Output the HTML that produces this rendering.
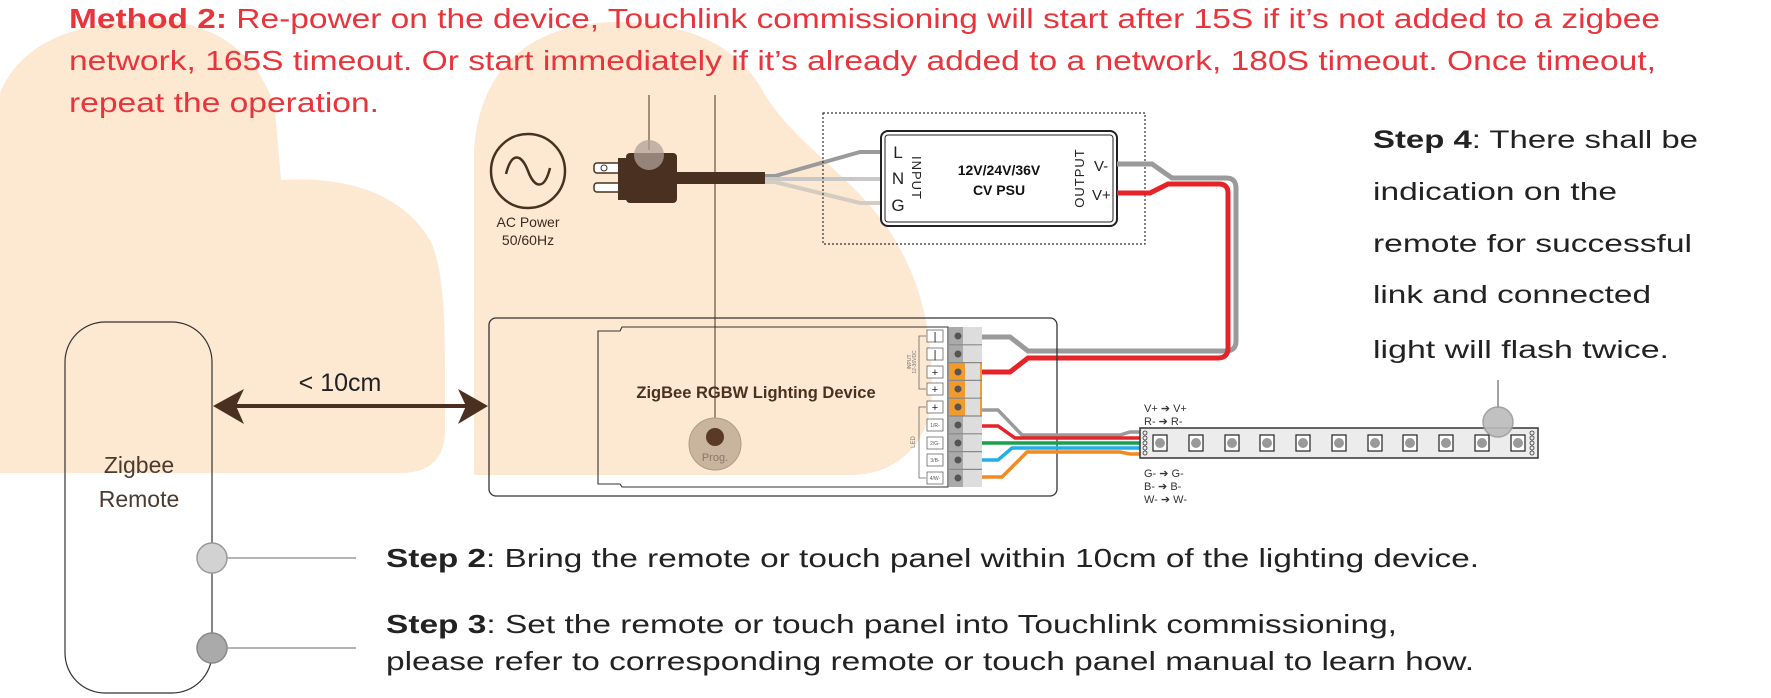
<!DOCTYPE html>
<html><head><meta charset="utf-8"><style>
html,body{margin:0;padding:0;background:#fff;}
svg{display:block;}
text{font-family:"Liberation Sans",Arial,sans-serif;}
</style></head><body>
<svg width="1771" height="698" viewBox="0 0 1771 698" xmlns="http://www.w3.org/2000/svg">
<path d="M0,93 C20,45 70,22 150,20 C220,20 262,60 275,110 L281,180 C340,176 400,190 430,240 C445,270 445,330 445,380 L445,430 Q445,473 400,473 L0,473 Z" fill="#fde8d2"/>
<path d="M474,475 L474,150 C480,60 540,22 618,22 C700,22 745,55 765,95 C800,150 860,180 895,240 C925,290 932,340 932,390 C932,440 900,475 850,475 Z" fill="#fde8d2"/>

<g fill="#e8353c" font-size="28">
<text x="69" y="28" textLength="1591" lengthAdjust="spacingAndGlyphs"><tspan font-weight="bold">Method 2:</tspan> Re-power on the device, Touchlink commissioning will start after 15S if it’s not added to a zigbee</text>
<text x="69" y="70" textLength="1587" lengthAdjust="spacingAndGlyphs">network, 165S timeout. Or start immediately if it’s already added to a network, 180S timeout. Once timeout,</text>
<text x="69" y="112" textLength="310" lengthAdjust="spacingAndGlyphs">repeat the operation.</text>
</g>

<circle cx="528" cy="171" r="37" fill="none" stroke="#4a3020" stroke-width="2.5"/>
<path d="M506,174 C512,150 522,155 528,171 C534,187 544,192 550,168" fill="none" stroke="#4a3020" stroke-width="2.5"/>
<text x="528" y="227" font-size="14" fill="#3a2a20" text-anchor="middle">AC Power</text>
<text x="528" y="245" font-size="14" fill="#3a2a20" text-anchor="middle">50/60Hz</text>

<rect x="594" y="163" width="34" height="10" rx="3" fill="#fff" stroke="#4a3020" stroke-width="1.5"/>
<rect x="594" y="183" width="34" height="9" rx="3" fill="#fff" stroke="#4a3020" stroke-width="1.5"/>
<circle cx="604" cy="168" r="3" fill="none" stroke="#4a3020"/>
<rect x="618" y="158" width="14" height="42" fill="#4a3020"/>
<rect x="626" y="153" width="51" height="50" rx="4" fill="#4a3020"/>
<rect x="676" y="172" width="89" height="12" fill="#4a3020"/>
<path d="M765,176 L775,176 L860,152 L880,152" fill="none" stroke="#9a9a9a" stroke-width="4"/>
<path d="M765,179 L880,179" fill="none" stroke="#c8c8c8" stroke-width="4"/>
<path d="M765,182 L775,182 L860,203 L880,203" fill="none" stroke="#d4ccc0" stroke-width="4"/>

<line x1="649" y1="95" x2="649" y2="150" stroke="#4a3020" stroke-width="1"/>
<ellipse cx="649" cy="155" rx="15" ry="15" fill="#b0a098" opacity="0.75"/>
<line x1="715" y1="95" x2="715" y2="430" stroke="#4a3020" stroke-width="1"/>

<rect x="823" y="113" width="322" height="131" fill="none" stroke="#333" stroke-width="1.2" stroke-dasharray="2,2"/>
<rect x="881" y="131" width="236" height="95" rx="7" fill="#fff" stroke="#222" stroke-width="2"/>
<rect x="885" y="135" width="228" height="87" rx="3" fill="none" stroke="#222" stroke-width="1"/>
<g font-size="17" fill="#222">
<text x="898" y="158" text-anchor="middle">L</text>
<text x="898" y="184" text-anchor="middle">N</text>
<text x="898" y="211" text-anchor="middle">G</text>
<text x="1094" y="171" font-size="15">V-</text>
<text x="1092" y="200" font-size="15">V+</text>
</g>
<text transform="translate(912,178) rotate(90)" font-size="13" fill="#222" text-anchor="middle" letter-spacing="1">INPUT</text>
<text transform="translate(1084,178) rotate(-90)" font-size="13" fill="#222" text-anchor="middle" letter-spacing="1">OUTPUT</text>
<text x="999" y="175" font-size="14" font-weight="bold" fill="#111" text-anchor="middle">12V/24V/36V</text>
<text x="999" y="195" font-size="14" font-weight="bold" fill="#111" text-anchor="middle">CV PSU</text>

<path d="M1117,164 H1152 L1172,178 H1226 Q1236,178 1236,188 V341 Q1236,351 1226,351 H1028 L1010,337 H982" fill="none" stroke="#9a9a9a" stroke-width="5"/>
<path d="M1117,193 H1150 L1168,184 H1219 Q1228,184 1228,193 V348 Q1228,358 1218,358 H1028 L1010,372 H982" fill="none" stroke="#e42428" stroke-width="5"/>

<rect x="489" y="318" width="568" height="178" rx="7" fill="none" stroke="#333" stroke-width="1.3"/>
<path d="M598,331 H620 L622,327 H948 V487 H622 L620,484 H598 Z" fill="none" stroke="#333" stroke-width="1.1"/>
<text x="756" y="398" font-size="16.5" font-weight="bold" fill="#4a3020" text-anchor="middle">ZigBee RGBW Lighting Device</text>
<circle cx="715" cy="444" r="26" fill="#c9b49e" stroke="#b29a84"/>
<circle cx="715" cy="437" r="9" fill="#5a3a26"/>
<text x="715" y="461" font-size="11" fill="#8a7868" text-anchor="middle">Prog.</text>

<g>
<rect x="949" y="327" width="33" height="160" fill="#ddd"/>
<rect x="949" y="327" width="14" height="160" fill="#aaa"/>
<rect x="949" y="362.6" width="14" height="53.4" fill="#f39a2c"/>
<rect x="963" y="362.6" width="2" height="53.4" fill="#f39a2c"/>
<rect x="980" y="362.6" width="2" height="53.4" fill="#f39a2c"/>
<g stroke="#888" stroke-width="1.2">
<line x1="949" y1="344.8" x2="982" y2="344.8"/><line x1="949" y1="362.6" x2="982" y2="362.6"/>
<line x1="949" y1="380.4" x2="982" y2="380.4"/><line x1="949" y1="398.2" x2="982" y2="398.2"/>
<line x1="949" y1="416" x2="982" y2="416"/><line x1="949" y1="433.8" x2="982" y2="433.8"/>
<line x1="949" y1="451.6" x2="982" y2="451.6"/><line x1="949" y1="469.4" x2="982" y2="469.4"/>
</g>
<g fill="#555">
<circle cx="958" cy="336" r="3.5"/><circle cx="958" cy="354" r="3.5"/><circle cx="958" cy="372" r="3.5"/>
<circle cx="958" cy="389" r="3.5"/><circle cx="958" cy="407" r="3.5"/><circle cx="958" cy="425" r="3.5"/>
<circle cx="958" cy="443" r="3.5"/><circle cx="958" cy="460" r="3.5"/><circle cx="958" cy="478" r="3.5"/>
</g>
<g fill="#fff" stroke="#666" stroke-width="0.8">
<rect x="927" y="330" width="16" height="12"/><rect x="927" y="348" width="16" height="12"/>
<rect x="927" y="366" width="16" height="12"/><rect x="927" y="383" width="16" height="12"/>
<rect x="927" y="401" width="16" height="12"/><rect x="927" y="419" width="16" height="12"/>
<rect x="927" y="437" width="16" height="12"/><rect x="927" y="454" width="16" height="12"/>
<rect x="927" y="472" width="16" height="12"/>
</g>
<g font-size="11" fill="#222" text-anchor="middle">
<text x="935" y="340">|</text><text x="935" y="358">|</text><text x="935" y="376">+</text>
<text x="935" y="393">+</text><text x="935" y="411">+</text>
</g>
<g font-size="5" fill="#555" text-anchor="middle">
<text x="935" y="427">1/R-</text><text x="935" y="445">2/G-</text><text x="935" y="462">3/B-</text><text x="935" y="480">4/W-</text>
</g>
<path d="M926,336 H919 V389 H926 M926,407 H919 V478 H926" fill="none" stroke="#666" stroke-width="0.8"/>
<text transform="translate(911,362) rotate(-90)" font-size="5" fill="#777" text-anchor="middle">INPUT</text>
<text transform="translate(916,362) rotate(-90)" font-size="5" fill="#777" text-anchor="middle">12-36VDC</text>
<text transform="translate(915,442) rotate(-90)" font-size="6" fill="#777" text-anchor="middle">LED</text>
</g>

<path d="M982,410 H998 L1022,435 H1120 L1130,432 H1141" fill="none" stroke="#9a9a9a" stroke-width="3.5"/>
<path d="M982,426 H998 L1015,438 H1141" fill="none" stroke="#e42428" stroke-width="3.5"/>
<path d="M982,443 H1141" fill="none" stroke="#1aa04a" stroke-width="3.5"/>
<path d="M982,460 H998 L1012,448 H1141" fill="none" stroke="#23aee8" stroke-width="3.5"/>
<path d="M982,477 H1002 L1027,452 H1120 L1130,454 H1141" fill="none" stroke="#f08a24" stroke-width="3.5"/>

<rect x="1140" y="428" width="398" height="30" fill="#ececec" stroke="#333" stroke-width="1.5"/>
<g fill="none" stroke="#333" stroke-width="0.8">
<circle cx="1145" cy="433" r="2"/><circle cx="1145" cy="438" r="2"/><circle cx="1145" cy="443" r="2"/><circle cx="1145" cy="448" r="2"/><circle cx="1145" cy="453" r="2"/>
<circle cx="1532" cy="433" r="2"/><circle cx="1532" cy="438" r="2"/><circle cx="1532" cy="443" r="2"/><circle cx="1532" cy="448" r="2"/><circle cx="1532" cy="453" r="2"/>
</g>
<g fill="#fff" stroke="#222" stroke-width="1.2">
<rect x="1153" y="435" width="14" height="16"/><rect x="1189" y="435" width="14" height="16"/>
<rect x="1225" y="435" width="14" height="16"/><rect x="1260" y="435" width="14" height="16"/>
<rect x="1296" y="435" width="14" height="16"/><rect x="1332" y="435" width="14" height="16"/>
<rect x="1368" y="435" width="14" height="16"/><rect x="1403" y="435" width="14" height="16"/>
<rect x="1439" y="435" width="14" height="16"/><rect x="1475" y="435" width="14" height="16"/>
<rect x="1511" y="435" width="14" height="16"/>
</g>
<g fill="#999">
<circle cx="1160" cy="443" r="5"/><circle cx="1196" cy="443" r="5"/><circle cx="1232" cy="443" r="5"/>
<circle cx="1267" cy="443" r="5"/><circle cx="1303" cy="443" r="5"/><circle cx="1339" cy="443" r="5"/>
<circle cx="1375" cy="443" r="5"/><circle cx="1410" cy="443" r="5"/><circle cx="1446" cy="443" r="5"/>
<circle cx="1482" cy="443" r="5"/><circle cx="1518" cy="443" r="5"/>
</g>
<line x1="1498" y1="380" x2="1498" y2="408" stroke="#444" stroke-width="1"/>
<circle cx="1498" cy="422" r="15" fill="#bbb" stroke="#999" stroke-width="1.5" opacity="0.9"/>
<g font-size="11" fill="#333">
<text x="1144" y="412">V+ ➔ V+</text>
<text x="1144" y="425">R-  ➔  R-</text>
<text x="1144" y="477">G-  ➔  G-</text>
<text x="1144" y="490">B-  ➔  B-</text>
<text x="1144" y="503">W-  ➔  W-</text>
</g>

<g font-size="25" fill="#222">
<text x="1373" y="148" textLength="325" lengthAdjust="spacingAndGlyphs"><tspan font-weight="bold">Step 4</tspan>: There shall be</text>
<text x="1373" y="200" textLength="244" lengthAdjust="spacingAndGlyphs">indication on the</text>
<text x="1373" y="252" textLength="319" lengthAdjust="spacingAndGlyphs">remote for successful</text>
<text x="1373" y="303" textLength="278" lengthAdjust="spacingAndGlyphs">link and connected</text>
<text x="1373" y="358" textLength="296" lengthAdjust="spacingAndGlyphs">light will flash twice.</text>
</g>

<rect x="65" y="322" width="147" height="371" rx="40" fill="none" stroke="#333" stroke-width="1.2"/>
<text x="139" y="473" font-size="23" fill="#4a3a30" text-anchor="middle">Zigbee</text>
<text x="139" y="507" font-size="23" fill="#4a3a30" text-anchor="middle">Remote</text>
<line x1="235" y1="406" x2="466" y2="406" stroke="#4a3020" stroke-width="4"/>
<path d="M213,406 L244,389 L236,406 L244,424 Z" fill="#4a3020"/>
<path d="M488,406 L458,389 L466,406 L458,424 Z" fill="#4a3020"/>
<text x="340" y="391" font-size="25" fill="#222" text-anchor="middle">&lt; 10cm</text>

<line x1="227" y1="558" x2="356" y2="558" stroke="#888" stroke-width="1.2"/>
<line x1="227" y1="648" x2="356" y2="648" stroke="#888" stroke-width="1.2"/>
<circle cx="212" cy="558" r="15" fill="#d2d2d2" stroke="#999" stroke-width="1.5"/>
<circle cx="212" cy="648" r="15" fill="#aaa" stroke="#888" stroke-width="1.5"/>

<g font-size="26" fill="#222">
<text x="386" y="567" textLength="1093" lengthAdjust="spacingAndGlyphs"><tspan font-weight="bold">Step 2</tspan>: Bring the remote or touch panel within 10cm of the lighting device.</text>
<text x="386" y="633" textLength="1011" lengthAdjust="spacingAndGlyphs"><tspan font-weight="bold">Step 3</tspan>: Set the remote or touch panel into Touchlink commissioning,</text>
<text x="386" y="670" textLength="1088" lengthAdjust="spacingAndGlyphs">please refer to corresponding remote or touch panel manual to learn how.</text>
</g>
</svg>
</body></html>
